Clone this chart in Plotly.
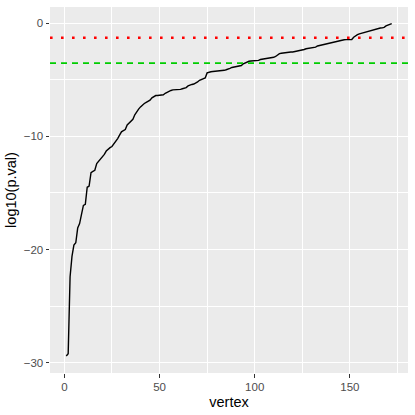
import plotly.graph_objects as go

vertex = list(range(1, 173))
log10_pval = [
    -29.4, -29.2, -22.4, -20.6, -19.6, -19.4, -18.1, -17.7, -16.9, -16.1,
    -16.0, -14.5, -14.4, -13.2, -13.1, -13.0, -12.4, -12.2, -12.1, -11.9,
    -11.6, -11.3, -11.1, -11.0, -10.9, -10.7, -10.5, -10.2, -9.9, -9.6,
    -9.5, -9.4, -9.0, -8.8, -8.7, -8.5, -8.1, -7.8, -7.6, -7.4,
    -7.2, -7.1, -7.0, -6.9, -6.8, -6.6, -6.5, -6.4, -6.4, -6.38,
    -6.36, -6.33, -6.2, -6.1, -6.0, -5.95, -5.9, -5.9, -5.88, -5.87,
    -5.85, -5.8, -5.75, -5.7, -5.55, -5.45, -5.42, -5.38, -5.3, -5.2,
    -5.05, -5.0, -4.9, -4.85, -4.4, -4.33, -4.3, -4.28, -4.27, -4.25,
    -4.24, -4.22, -4.2, -4.17, -4.12, -4.08, -4.0, -3.92, -3.88, -3.85,
    -3.82, -3.78, -3.75, -3.6, -3.5, -3.42, -3.37, -3.35, -3.34, -3.33,
    -3.31, -3.29, -3.22, -3.19, -3.17, -3.15, -3.13, -3.11, -3.09, -3.02,
    -2.95, -2.8, -2.7, -2.66, -2.63, -2.61, -2.6, -2.58, -2.56, -2.55,
    -2.52, -2.49, -2.47, -2.45, -2.4, -2.33, -2.27, -2.25, -2.23, -2.22,
    -2.2, -2.12, -2.02, -1.98, -1.94, -1.9, -1.85, -1.82, -1.79, -1.76,
    -1.72, -1.65, -1.6, -1.55, -1.5, -1.47, -1.47, -1.46, -1.46, -1.47,
    -1.45, -1.25, -1.12, -1.02, -0.95, -0.9, -0.85, -0.81, -0.77, -0.72,
    -0.66, -0.6, -0.55, -0.5, -0.47, -0.44, -0.42, -0.38, -0.25, -0.18,
    -0.11, -0.05,
]

alpha_line = -1.301        # log10(0.05)
bonferroni_line = -3.5366  # log10(0.05/172)

x_ticks = [0, 50, 100, 150]
y_ticks = [-30, -20, -10, 0]

fig = go.Figure()
fig.add_trace(go.Scatter(x=vertex, y=log10_pval, mode="lines",
                         line=dict(color="black", width=1.4), showlegend=False,
                         hoverinfo="skip"))
fig.add_hline(y=alpha_line, line=dict(color="#FF0000", width=2.6, dash="2.6px,8.4px"))
fig.add_hline(y=bonferroni_line, line=dict(color="#00CD00", width=1.6, dash="6px,5px"))

axis_common = dict(
    showgrid=True, gridcolor="white", gridwidth=1.1,
    zeroline=False, showline=False,
    ticks="outside", ticklen=3.5, tickwidth=1.1, tickcolor="#333333",
    tickfont=dict(family="Liberation Sans, Arial, sans-serif", size=11.5, color="#4D4D4D"),
    title_font=dict(family="Liberation Sans, Arial, sans-serif", size=14.5, color="black"),
)

fig.update_xaxes(
    range=[-7.55, 180.55], tickvals=x_ticks, ticktext=[str(v) for v in x_ticks],
    minor=dict(showgrid=True, gridcolor="white", gridwidth=0.55, tickvals=[25, 75, 125, 175]),
    title=dict(text="vertex", standoff=4),
    automargin=False,
    **axis_common,
)
fig.update_yaxes(
    range=[-30.9, 1.42], tickvals=y_ticks, ticktext=["\u221230", "\u221220", "\u221210", "0"],
    minor=dict(showgrid=True, gridcolor="white", gridwidth=0.55, tickvals=[-25, -15, -5]),
    title=dict(text="log10(p.val)", standoff=3),
    automargin=True,
    **axis_common,
)

fig.update_layout(
    width=415, height=415,
    margin=dict(l=50, r=7, t=7, b=42),
    paper_bgcolor="white", plot_bgcolor="#EBEBEB",
    showlegend=False,
)

fig.write_html("out.html", config={"displayModeBar": False},
               post_script="document.body.style.margin='0';document.body.style.padding='0';")
